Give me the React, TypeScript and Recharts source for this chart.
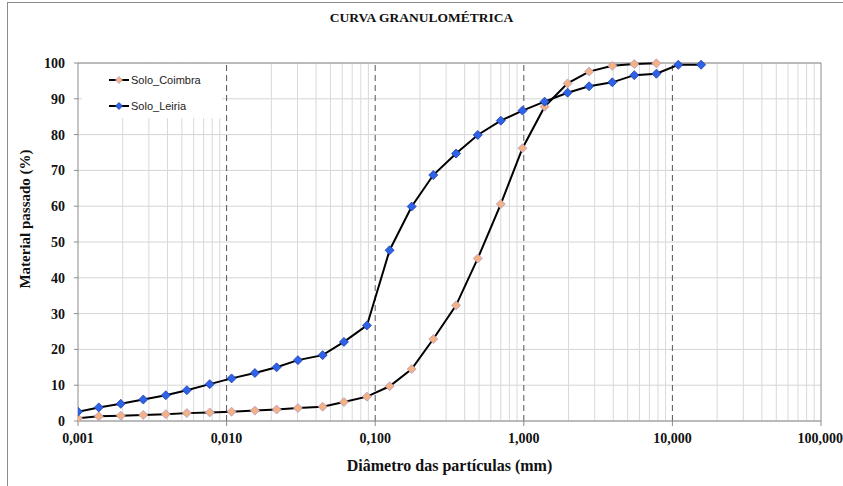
import React from 'react';
import { LineChart, Line, XAxis, YAxis, CartesianGrid, ReferenceLine, Label } from 'recharts';

// particle sizes (mm)
const sizes = [
    0.001, 0.00138, 0.00194, 0.00275, 0.0039, 0.0054, 0.0077, 0.0108, 0.0155, 0.0217,
    0.0302, 0.0443, 0.0616, 0.088, 0.125, 0.176, 0.246, 0.35, 0.49, 0.7,
    0.98, 1.38, 1.97, 2.75, 3.94, 5.54, 7.8, 10.96, 15.6,
];

const coimbra = [
    0.75, 1.3, 1.5, 1.7, 1.9, 2.2, 2.4, 2.6, 2.9, 3.2,
    3.6, 4.0, 5.3, 6.8, 9.7, 14.5, 22.9, 32.3, 45.4, 60.6,
    76.2, 87.8, 94.3, 97.6, 99.2, 99.7, 99.9,
];

const leiria = [
    2.6, 3.8, 4.8, 6.0, 7.2, 8.6, 10.3, 11.9, 13.4, 15.0,
    17.0, 18.4, 22.1, 26.7, 47.7, 59.9, 68.7, 74.7, 79.9, 83.9,
    86.7, 89.2, 91.7, 93.5, 94.6, 96.6, 97.0, 99.5, 99.5,
];

const xTicks = [0.001, 0.01, 0.1, 1, 10, 100];
const yTicks = [0, 10, 20, 30, 40, 50, 60, 70, 80, 90, 100];
const decades = [0.001, 0.01, 0.1, 1, 10];

const coimbraData = coimbra.map((y, i) => ({ x: sizes[i], y }));
const leiriaData = leiria.map((y, i) => ({ x: sizes[i], y }));

// minor log grid positions (2..9 of each decade)
const minorLines: number[] = [];
decades.forEach(d => {
    for (let k = 2; k <= 9; k++) minorLines.push(+(d * k).toPrecision(3));
});

const serif = '"Liberation Serif", "DejaVu Serif", serif';

const diamond = (fill: string, stroke: string) => (props: any) => {
    const { cx, cy, index } = props;
    if (cx == null || cy == null) return <g key={index} />;
    const r = 4.5;
    return (
        <path
            key={index}
            d={`M${cx},${cy - r}L${cx + r},${cy}L${cx},${cy + r}L${cx - r},${cy}Z`}
            fill={fill}
            stroke={stroke}
            strokeWidth={0.8}
        />
    );
};

const series = [
    { name: 'Solo_Coimbra', fill: '#F4B183', stroke: '#B49BC8' },
    { name: 'Solo_Leiria', fill: '#2E62E8', stroke: '#1F3F9F' },
];

const LegendBox = () => (
    <div style={{ position: 'absolute', left: 82, top: 64, width: 114, height: 45, paddingLeft: 26, paddingTop: 9, fontFamily: '"Liberation Sans", Arial, sans-serif', fontSize: 11, color: '#222', background: '#fff' }}>
        {series.map((s, i) => (
            <div key={s.name} style={{ display: 'flex', alignItems: 'center', height: 13, marginBottom: i === 0 ? 13 : 0 }}>
                <svg width={22} height={12}>
                    <line x1={1} y1={6} x2={21} y2={6} stroke="#000" strokeWidth={2} />
                    <path d="M11,2.5L14.5,6L11,9.5L7.5,6Z" fill={s.fill} stroke={s.stroke} strokeWidth={0.8} />
                </svg>
                <span style={{ marginLeft: 1 }}>{s.name}</span>
            </div>
        ))}
    </div>
);

const YTitle = (props: any) => {
    const vb = props.viewBox || {};
    const y = (vb.y ?? 63) + (vb.height ?? 358) / 2 - 23;
    return (
        <text
            x={25}
            y={y}
            transform={`rotate(-90, 25, ${y})`}
            textAnchor="middle"
            dominantBaseline="central"
            style={{ fontFamily: serif, fontWeight: 'bold', fontSize: 15, fill: '#111' }}
        >
            Material passado (%)
        </text>
    );
};

const fmt = (v: number) => v.toFixed(3).replace('.', ',');

export default function App() {
    return (
        <div style={{ position: 'absolute', left: 0, top: 0, width: 843, height: 486, background: '#fff' }}>
            <div style={{ position: 'absolute', left: 7, top: 2, width: 836, height: 484, borderTop: '1px solid #8c8c8c', borderLeft: '1px solid #8c8c8c' }} />
            <div style={{ position: 'absolute', left: 0, top: 10, width: 843, textAlign: 'center', fontFamily: serif, fontWeight: 'bold', fontSize: 13.5, color: '#111' }}>
                CURVA GRANULOMÉTRICA
            </div>
            <LineChart width={843} height={486} margin={{ top: 63, right: 22, left: 0, bottom: 35 }} style={{ position: 'absolute', left: 0, top: 0 }}>
                <CartesianGrid vertical={false} stroke="#d4d4d4" />
                {minorLines.map(v => (
                    <ReferenceLine key={'m' + v} x={v} stroke="#d9d9d9" strokeWidth={1} ifOverflow="hidden" />
                ))}
                {decades.slice(1).map(v => (
                    <ReferenceLine key={'d' + v} x={v} stroke="#555" strokeDasharray="6 4" strokeWidth={1} />
                ))}
                <ReferenceLine y={100} stroke="#8c8c8c" />
                <ReferenceLine x={100} stroke="#8c8c8c" />
                <XAxis
                    dataKey="x"
                    type="number"
                    scale="log"
                    domain={[0.001, 100]}
                    ticks={xTicks}
                    allowDataOverflow
                    tickFormatter={fmt}
                    stroke="#8c8c8c"
                    tickSize={5}
                    tickMargin={7}
                    height={30}
                    tick={{ fontFamily: serif, fontWeight: 'bold', fontSize: 14, fill: '#111' }}
                >
                    <Label value="Diâmetro das partículas (mm)" position="bottom" offset={9} style={{ fontFamily: serif, fontWeight: 'bold', fontSize: 16, fill: '#111' }} />
                </XAxis>
                <YAxis
                    type="number"
                    domain={[0, 100]}
                    ticks={yTicks}
                    width={78}
                    stroke="#8c8c8c"
                    tickSize={4}
                    tickMargin={9}
                    tick={{ fontFamily: serif, fontWeight: 'bold', fontSize: 14, fill: '#111' }}
                >
                    <Label content={<YTitle />} />
                </YAxis>
                <Line
                    data={coimbraData}
                    dataKey="y"
                    name="Solo_Coimbra"
                    stroke="#000"
                    strokeWidth={2}
                    type="linear"
                    dot={diamond(series[0].fill, series[0].stroke)}
                    isAnimationActive={false}
                />
                <Line
                    data={leiriaData}
                    dataKey="y"
                    name="Solo_Leiria"
                    stroke="#000"
                    strokeWidth={2}
                    type="linear"
                    dot={diamond(series[1].fill, series[1].stroke)}
                    isAnimationActive={false}
                />
            </LineChart>
            <LegendBox />
        </div>
    );
}
